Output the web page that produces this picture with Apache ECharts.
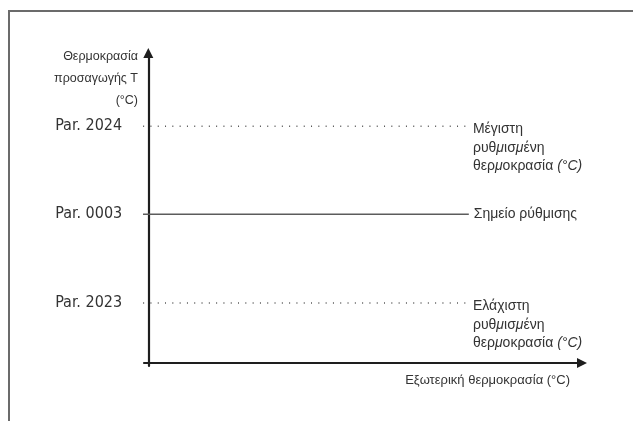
<!DOCTYPE html>
<html>
<head>
<meta charset="utf-8">
<script src="https://cdn.jsdelivr.net/npm/echarts@6/dist/echarts.min.js"></script>
<style>
html, body { margin: 0; padding: 0; background: #fff; }
#chart { width: 633px; height: 421px; }
</style>
</head>
<body>
<div id="chart"></div>
<script>
// parameter levels on the (unscaled) temperature axis
const paramNames = ['Par. 2024', 'Par. 0003', 'Par. 2023'];
const levels = [76.4, 48.0, 19.3];
const lineStart = [-1.2, -5.1, -1.2];
const lineEnd = [73.7, 73.9, 73.7];
const solidLine = [false, true, false];
const rightLabels = [
  'Μέγιστη\nρυθ{i|μ}ισ{i|μ}ένη\nθερ{i|μ}οκρασία {i|(°C)}',
  'Σημείο ρύθμισης',
  'Ελάχιστη\nρυθ{i|μ}ισ{i|μ}ένη\nθερ{i|μ}οκρασία {i|(°C)}'
];
const yName = 'Θερμοκρασία\nπροσαγωγής T\n(°C)';
const xName = 'Εξωτερική θερμοκρασία (°C)';

const sans = '"Liberation Sans", Arial, sans-serif';
const narrow = '"Liberation Sans Narrow", "DejaVu Sans Condensed", sans-serif';

const chart = echarts.init(document.getElementById('chart'));

const axisLine = {
  onZero: true,
  symbol: ['none', 'triangle'],
  symbolSize: [10, 10],
  lineStyle: { color: '#1e1e1e', width: 2.2 }
};

const series = levels.map((lv, i) => ({
  type: 'line',
  clip: false,
  silent: true,
  symbol: 'circle',
  symbolSize: 0.01,
  lineStyle: {
    color: solidLine[i] ? '#5c5c5c' : '#555',
    width: solidLine[i] ? 1.5 : 1.5,
    type: solidLine[i] ? 'solid' : [1, 6.3]
  },
  data: [
    {
      value: [lineStart[i], lv],
      label: {
        show: true,
        position: 'left',
        distance: solidLine[i] ? 4 : 21,
        formatter: paramNames[i],
        fontFamily: narrow,
        fontSize: 16,
        color: '#333'
      }
    },
    {
      value: [lineEnd[i], lv],
      label: {
        show: true,
        position: 'right',
        distance: 5,
        formatter: rightLabels[i],
        verticalAlign: 'top',
        offset: [0, solidLine[i] ? -9 : -6],
        fontFamily: sans,
        fontSize: 14,
        lineHeight: 18.5,
        color: '#333',
        rich: {
          i: { fontStyle: 'italic', fontFamily: sans, fontSize: 14, lineHeight: 18.5, color: '#333' }
        }
      }
    }
  ]
}));

const option = {
  animation: false,
  backgroundColor: '#fff',
  grid: { left: 144, right: 51, top: 53, bottom: 55 },
  xAxis: {
    type: 'value', min: -1, max: 100,
    axisLine: axisLine,
    axisTick: { show: false },
    axisLabel: { show: false },
    splitLine: { show: false }
  },
  yAxis: {
    type: 'value', min: -1, max: 100,
    axisLine: axisLine,
    axisTick: { show: false },
    axisLabel: { show: false },
    splitLine: { show: false }
  },
  graphic: [
    {
      type: 'rect', silent: true, z: -1,
      shape: { x: 9, y: 11, width: 700, height: 500 },
      style: { fill: 'none', stroke: '#6b6b6b', lineWidth: 2 }
    },
    {
      type: 'text', silent: true, x: 138, y: 46,
      style: {
        text: yName, fill: '#333', font: '12.5px ' + sans,
        align: 'right', verticalAlign: 'top', lineHeight: 22
      }
    },
    {
      type: 'text', silent: true, x: 570, y: 380,
      style: {
        text: xName, fill: '#333', font: '13px ' + sans,
        align: 'right', verticalAlign: 'middle'
      }
    }
  ],
  series: series
};

chart.setOption(option);
</script>
</body>
</html>
